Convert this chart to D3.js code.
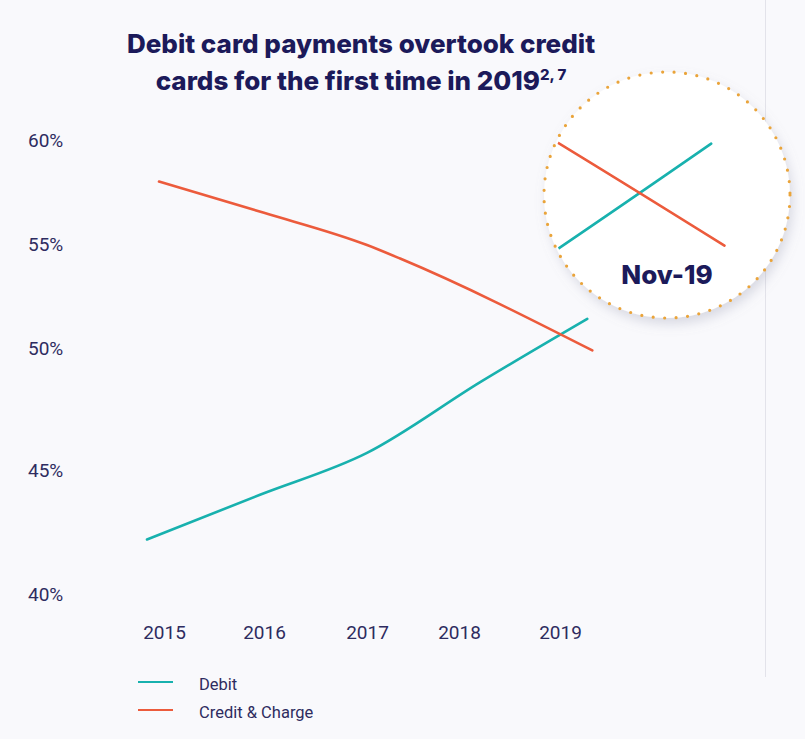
<!DOCTYPE html>
<html>
<head>
<meta charset="utf-8">
<script src="https://cdn.jsdelivr.net/npm/d3@7"></script>
<style>
  html, body { margin: 0; padding: 0; background: #f9f9fc; }
  svg { display: block; font-family: Roboto, "Noto Sans", sans-serif; }
</style>
</head>
<body>
<script>
// chart values
var years = [2015, 2016, 2017, 2018, 2019];
var yTicks = [40, 45, 50, 55, 60];

var debitDates = [2014.83, 2015.96, 2017.0, 2018.21, 2019.27];
var debitValues = [42.2, 44.0, 45.7, 48.6, 51.4];

var creditDates = [2014.95, 2016.0, 2017.0, 2017.36, 2019.32];
var creditValues = [58.0, 56.5, 54.95, 54.3, 49.9];

var seriesNames = ['Debit', 'Credit & Charge'];
var seriesColors = ['#18b1ae', '#ec5b3c'];

var width = 805;
var height = 739;
var navy = '#1c1a5a';
var labelColor = '#2e2c60';

var svg = d3.select('body').append('svg')
  .attr('width', width)
  .attr('height', height);

svg.append('rect')
  .attr('width', width)
  .attr('height', height)
  .attr('fill', '#f9f9fc');

// thin separator on the right
svg.append('line')
  .attr('x1', 765.5).attr('x2', 765.5)
  .attr('y1', 0).attr('y2', 677)
  .attr('stroke', '#e3e3ea')
  .attr('stroke-width', 1);

// the axes in the picture are not evenly spaced, so use piecewise scales
var x = d3.scaleLinear()
  .domain(years)
  .range([164, 264, 367, 459, 560]);

var y = d3.scaleLinear()
  .domain(yTicks)
  .range([594, 470, 348, 244, 140]);

var zip = function (dates, values) {
  return dates.map(function (d, i) { return { date: d, value: values[i] }; });
};
var series = [zip(debitDates, debitValues), zip(creditDates, creditValues)];

// title
var title = svg.append('text')
  .attr('text-anchor', 'middle')
  .attr('fill', navy)
  .attr('font-family', 'Inter, "Open Sans", sans-serif')
  .attr('font-size', 26)
  .attr('font-weight', 800);
title.append('tspan').attr('x', 361).attr('y', 53)
  .text('Debit card payments overtook credit');
var line2 = title.append('tspan').attr('x', 361).attr('y', 90);
line2.append('tspan').text('cards for the first time in 2019');
line2.append('tspan').attr('font-size', 15).attr('dy', -10).text('2, 7');

// y axis
var yAxis = svg.append('g')
  .attr('transform', 'translate(28,0)')
  .call(d3.axisLeft(y).tickValues(yTicks).tickFormat(function (d) { return d + '%'; }).tickSize(0));
yAxis.select('.domain').remove();
yAxis.selectAll('text')
  .attr('x', 0)
  .attr('text-anchor', 'start')
  .attr('fill', labelColor)
  .attr('font-size', 19)
  .attr('font-family', 'Roboto, sans-serif');

// x axis
var xAxis = svg.append('g')
  .attr('transform', 'translate(0,625)')
  .call(d3.axisBottom(x).tickValues(years).tickFormat(d3.format('d')).tickSize(0));
xAxis.select('.domain').remove();
xAxis.selectAll('text')
  .attr('y', 0)
  .attr('fill', labelColor)
  .attr('font-size', 19)
  .attr('font-family', 'Roboto, sans-serif');

var line = d3.line()
  .x(function (d) { return x(d.date); })
  .y(function (d) { return y(d.value); })
  .curve(d3.curveMonotoneX);

svg.append('g').selectAll('path').data(series)
  .enter()
  .append('path')
  .attr('d', line)
  .attr('fill', 'none')
  .attr('stroke', function (d, i) { return seriesColors[i]; })
  .attr('stroke-width', 2.6)
  .attr('stroke-linecap', 'round');

// magnified inset around the crossover
var cx = 667, cy = 195, r = 123;
var defs = svg.append('defs');
var shadow = defs.append('filter').attr('id', 'shadow')
  .attr('x', '-30%').attr('y', '-30%').attr('width', '160%').attr('height', '160%');
shadow.append('feDropShadow')
  .attr('dx', 3).attr('dy', 6)
  .attr('stdDeviation', 6)
  .attr('flood-color', '#8a8fa8')
  .attr('flood-opacity', 0.3);
defs.append('clipPath').attr('id', 'lens')
  .append('circle').attr('cx', cx).attr('cy', cy).attr('r', r - 2);

svg.append('circle')
  .attr('cx', cx).attr('cy', cy).attr('r', r)
  .attr('fill', '#ffffff')
  .attr('filter', 'url(#shadow)');

var crossDate = 2018.99, crossValue = 50.63;
var xz = d3.scaleLinear().domain([crossDate, crossDate + 1]).range([637, 637 + 265]);
var yz = d3.scaleLinear().domain([crossValue, crossValue + 1]).range([196, 196 - 68]);

var zoomLine = d3.line()
  .x(function (d) { return xz(d.date); })
  .y(function (d) { return yz(d.value); })
  .curve(d3.curveMonotoneX);

svg.append('g').attr('clip-path', 'url(#lens)')
  .selectAll('path').data(series)
  .enter()
  .append('path')
  .attr('d', zoomLine)
  .attr('fill', 'none')
  .attr('stroke', function (d, i) { return seriesColors[i]; })
  .attr('stroke-width', 2.6)
  .attr('stroke-linecap', 'round');

svg.append('circle')
  .attr('cx', cx).attr('cy', cy).attr('r', r)
  .attr('fill', 'none')
  .attr('stroke', '#eaa43a')
  .attr('stroke-width', 3.2)
  .attr('stroke-linecap', 'round')
  .attr('stroke-dasharray', '0 11.5');

svg.append('text')
  .attr('x', 667).attr('y', 284)
  .attr('text-anchor', 'middle')
  .attr('fill', navy)
  .attr('font-family', 'Inter, "Open Sans", sans-serif')
  .attr('font-size', 26)
  .attr('font-weight', 800)
  .text('Nov-19');

// legend
var legend = svg.append('g').selectAll('g').data(seriesNames)
  .enter()
  .append('g')
  .attr('transform', function (d, i) { return 'translate(138,' + (682 + i * 28) + ')'; });
legend.append('line')
  .attr('x1', 0).attr('x2', 35)
  .attr('stroke', function (d, i) { return seriesColors[i]; })
  .attr('stroke-width', 2);
legend.append('text')
  .attr('x', 61).attr('y', 8)
  .attr('fill', labelColor)
  .attr('font-size', 16.5)
  .text(function (d) { return d; });
</script>
</body>
</html>
